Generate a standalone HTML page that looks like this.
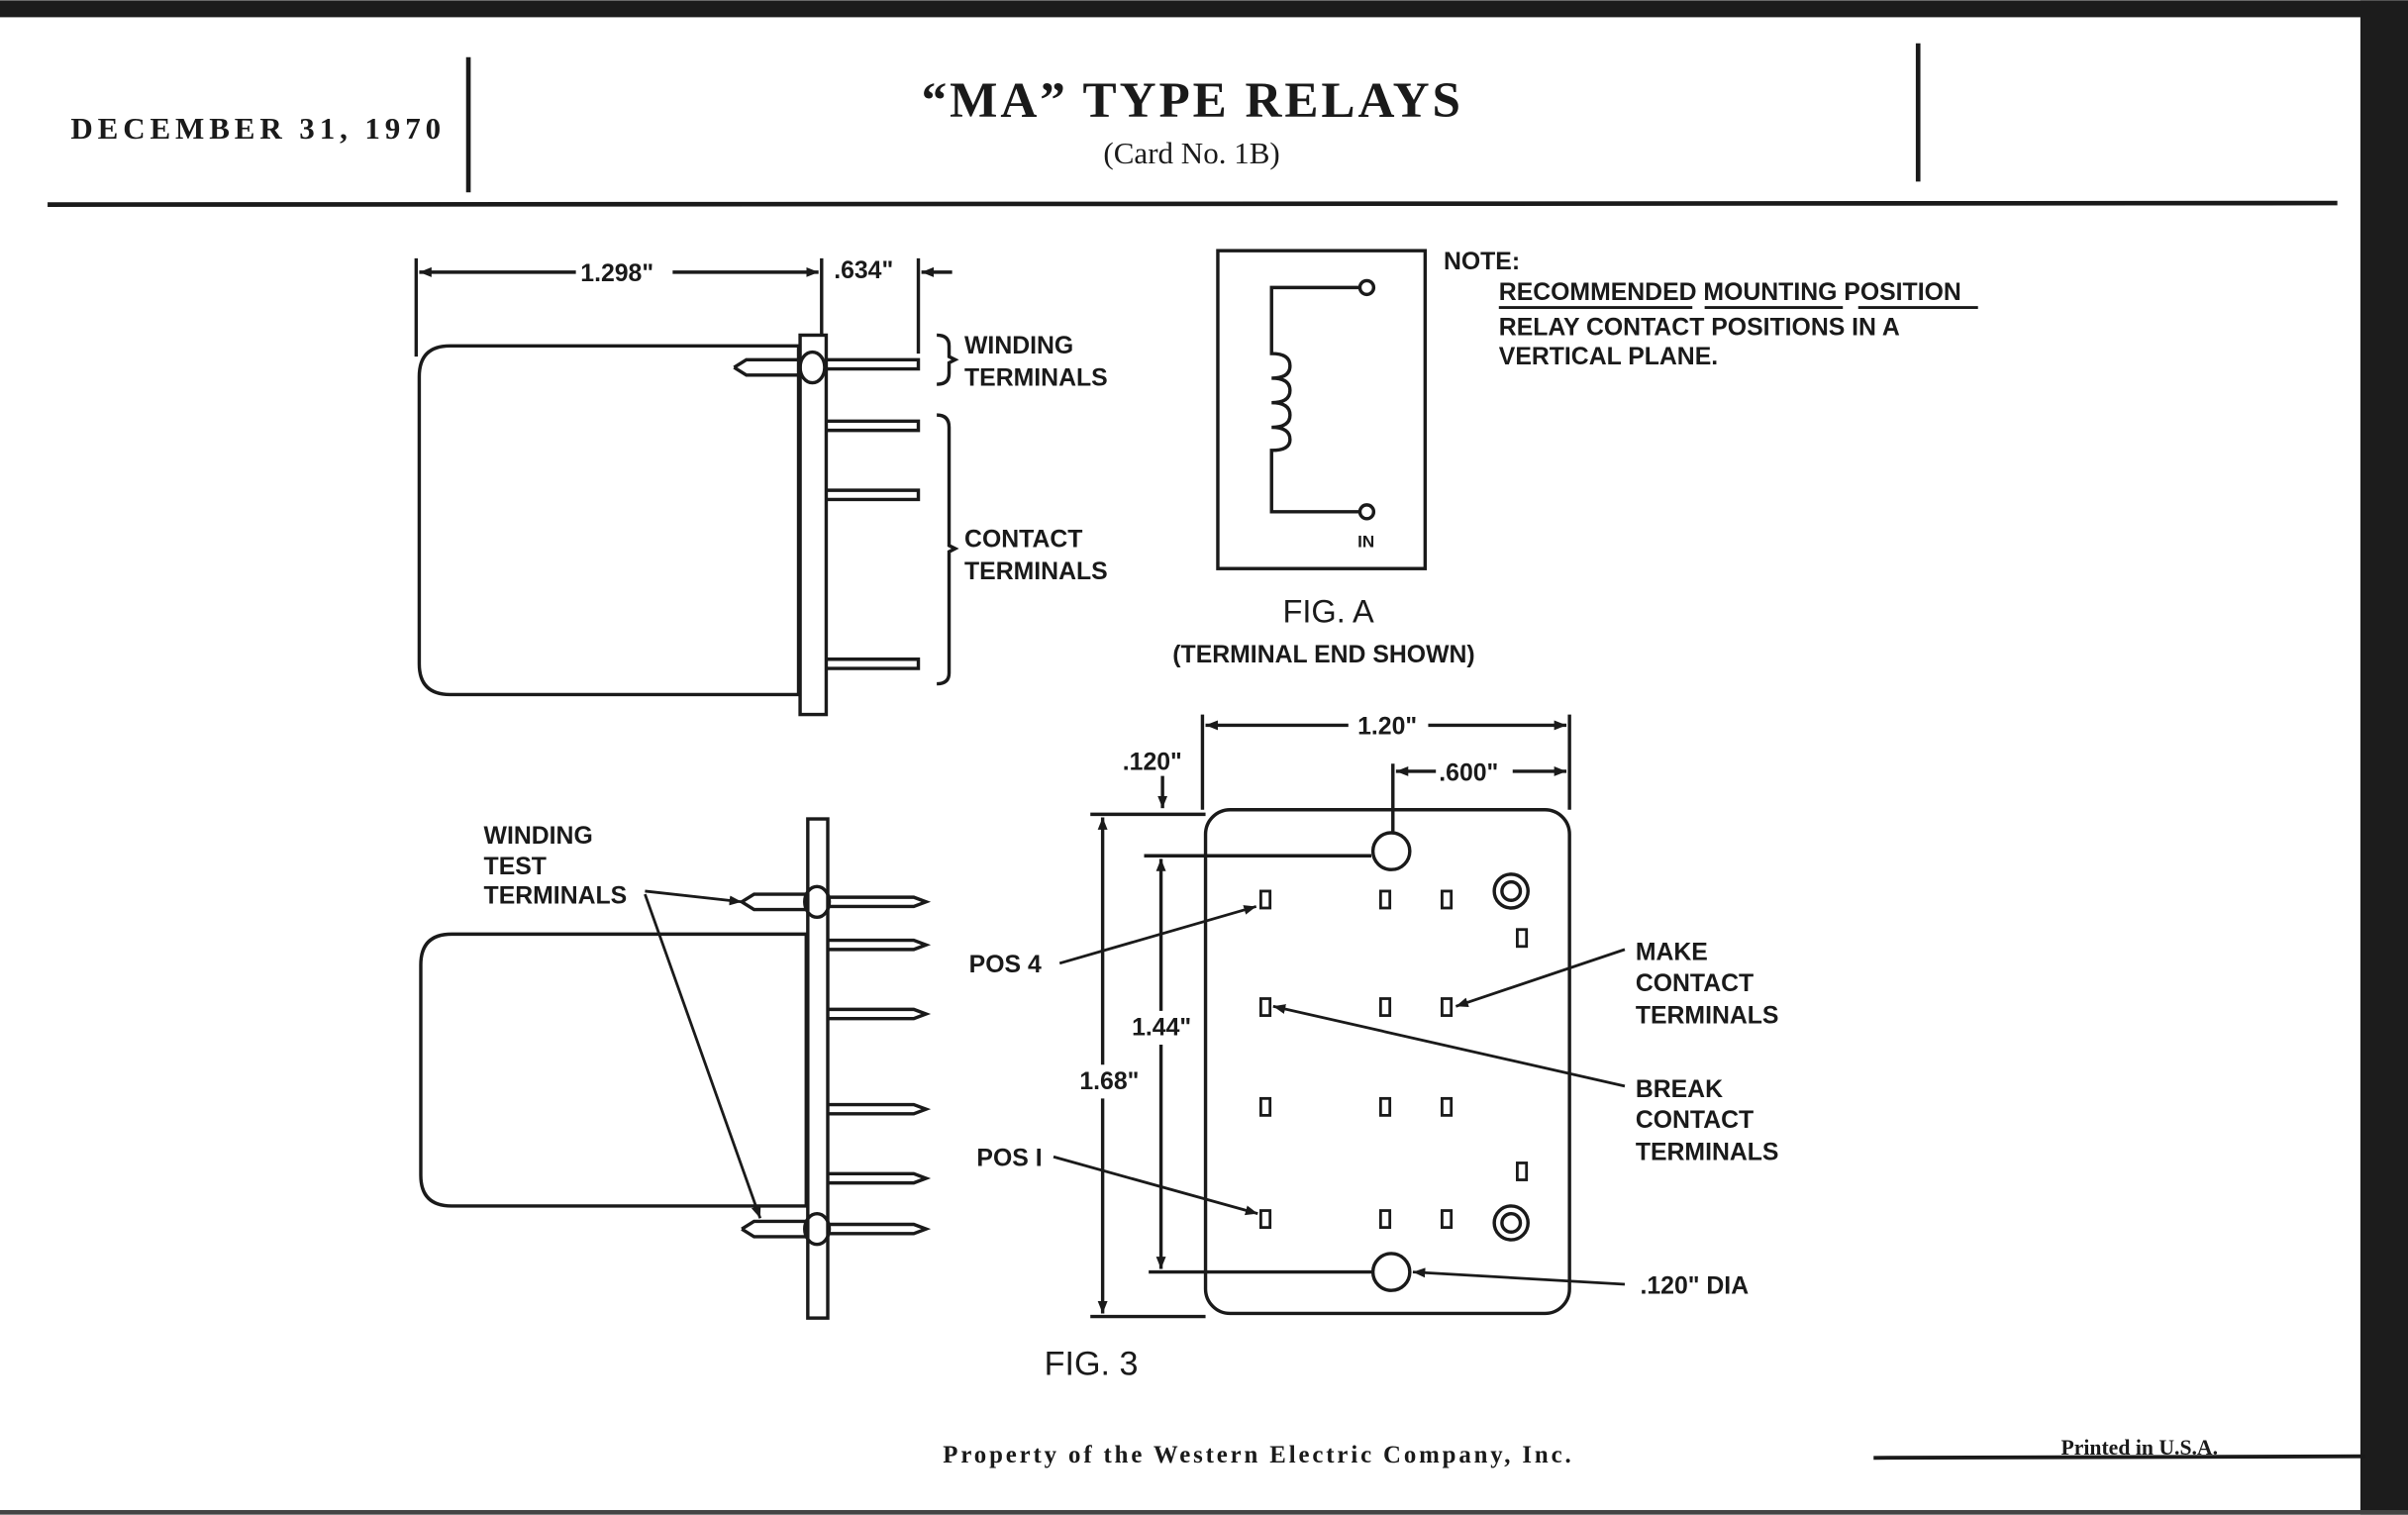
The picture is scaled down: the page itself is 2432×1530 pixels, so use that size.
<!DOCTYPE html>
<html><head><meta charset="utf-8"><style>
html,body{margin:0;padding:0;background:#fff}
svg{display:block}
.s{font-family:"Liberation Sans",sans-serif;font-weight:bold;fill:#1a1a1a}
.r{font-family:"Liberation Serif",serif;font-weight:bold;fill:#1a1a1a}
</style></head><body>
<svg width="2432" height="1530" viewBox="0 0 1568 986" xmlns="http://www.w3.org/2000/svg">
<defs>
<marker id="a" viewBox="0 0 10 10" refX="10" refY="5" markerWidth="8" markerHeight="8" orient="auto-start-reverse" markerUnits="userSpaceOnUse"><path d="M0,1 L10,5 L0,9 z" fill="#1a1a1a"/></marker>
</defs>
<rect width="1568" height="986" fill="#fff"/>
<rect x="0" y="0" width="1568" height="11" fill="#1c1c1c"/>
<rect x="1537" y="0" width="31" height="986" fill="#1c1c1c"/>
<rect x="0" y="983" width="1568" height="3" fill="#444"/>
<g stroke="#1a1a1a" fill="none" stroke-width="2.2">
<line x1="305" y1="37" x2="305" y2="125" stroke-width="3"/>
<line x1="1249" y1="28" x2="1249" y2="118" stroke-width="3"/>
<line x1="31" y1="133" x2="1522" y2="132" stroke-width="3"/>
<path d="M293,225 H520 V452 H293 Q273,452 273,432 V245 Q273,225 293,225 Z"/>
<rect x="521" y="218" width="17" height="247"/>
<path d="M478,239 L486,234 H520 M478,239 L486,244 H520"/>
<ellipse cx="529" cy="239" rx="8" ry="10"/>
<path d="M538,234 H598 V240 H538"/>
<path d="M538,274 H598 V280 H538"/>
<path d="M538,319 H598 V325 H538"/>
<path d="M538,429 H598 V435 H538"/>
<line x1="271" y1="168" x2="271" y2="232"/>
<line x1="535" y1="168" x2="535" y2="218"/>
<line x1="598" y1="168" x2="598" y2="230"/>
<line x1="273" y1="177" x2="375" y2="177" marker-start="url(#a)"/>
<line x1="438" y1="177" x2="533" y2="177" marker-end="url(#a)"/>
<line x1="620" y1="177" x2="600" y2="177" marker-end="url(#a)"/>
<path d="M610,218 Q618,218 618,225 V232 L622,234 L618,236 V243 Q618,250 610,250"/>
<path d="M610,270 Q618,270 618,278 V355 L622,357 L618,359 V438 Q618,445 610,445"/>
<rect x="793" y="163" width="135" height="207"/>
<path d="M885,187 H828 V230 Q840,230 840,238 Q840,246 828,246 Q840,246 840,254 Q840,262 828,262 Q840,262 840,270 Q840,278 828,278 Q840,278 840,286 Q840,293 828,293 V333 H885"/>
<circle cx="890" cy="187" r="4.5"/>
<circle cx="890" cy="333" r="4.5"/>
<line x1="976" y1="200" x2="1102" y2="200" stroke-width="1.8"/>
<line x1="1110" y1="200" x2="1200" y2="200" stroke-width="1.8"/>
<line x1="1210" y1="200" x2="1288" y2="200" stroke-width="1.8"/>
<path d="M294,608 H525 V785 H294 Q274,785 274,765 V628 Q274,608 294,608 Z"/>
<rect x="526" y="533" width="13" height="325"/>
<path d="M483,587 L491,582 H526 M483,587 L491,592 H526"/>
<ellipse cx="532" cy="587" rx="8" ry="10"/>
<path d="M483,800 L491,795 H526 M483,800 L491,805 H526"/>
<ellipse cx="532" cy="800" rx="8" ry="10"/>
<path d="M539,584 H595 L603,587 L595,590 H539"/>
<path d="M539,612 H595 L603,615 L595,618 H539"/>
<path d="M539,657 H595 L603,660 L595,663 H539"/>
<path d="M539,719 H595 L603,722 L595,725 H539"/>
<path d="M539,764 H595 L603,767 L595,770 H539"/>
<path d="M539,797 H595 L603,800 L595,803 H539"/>
<line x1="420" y1="580" x2="483" y2="587" marker-end="url(#a)" stroke-width="1.8"/>
<line x1="420" y1="582" x2="495" y2="793" marker-end="url(#a)" stroke-width="1.8"/>
<rect x="785" y="527" width="237" height="328" rx="16"/>
<circle cx="906" cy="554" r="12"/>
<circle cx="906" cy="828" r="12"/>
<circle cx="984" cy="580" r="11"/><circle cx="984" cy="580" r="6"/>
<circle cx="984" cy="796" r="11"/><circle cx="984" cy="796" r="6"/>
<g stroke-width="1.8">
<rect x="821" y="580" width="6" height="11"/><rect x="899" y="580" width="6" height="11"/><rect x="939" y="580" width="6" height="11"/>
<rect x="988" y="605" width="6" height="11"/>
<rect x="821" y="650" width="6" height="11"/><rect x="899" y="650" width="6" height="11"/><rect x="939" y="650" width="6" height="11"/>
<rect x="821" y="715" width="6" height="11"/><rect x="899" y="715" width="6" height="11"/><rect x="939" y="715" width="6" height="11"/>
<rect x="988" y="757" width="6" height="11"/>
<rect x="821" y="788" width="6" height="11"/><rect x="899" y="788" width="6" height="11"/><rect x="939" y="788" width="6" height="11"/>
</g>
<line x1="783" y1="465" x2="783" y2="527"/>
<line x1="1022" y1="465" x2="1022" y2="527"/>
<line x1="907" y1="497" x2="907" y2="542"/>
<line x1="785" y1="472" x2="878" y2="472" marker-start="url(#a)"/>
<line x1="930" y1="472" x2="1020" y2="472" marker-end="url(#a)"/>
<line x1="909" y1="502" x2="935" y2="502" marker-start="url(#a)"/>
<line x1="985" y1="502" x2="1020" y2="502" marker-end="url(#a)"/>
<line x1="757" y1="505" x2="757" y2="526" marker-end="url(#a)"/>
<line x1="710" y1="530" x2="785" y2="530"/>
<line x1="710" y1="857" x2="785" y2="857"/>
<line x1="745" y1="557" x2="893" y2="557"/>
<line x1="748" y1="828" x2="893" y2="828"/>
<line x1="718" y1="532" x2="718" y2="693" marker-start="url(#a)"/>
<line x1="718" y1="715" x2="718" y2="855" marker-end="url(#a)"/>
<line x1="756" y1="559" x2="756" y2="658" marker-start="url(#a)"/>
<line x1="756" y1="680" x2="756" y2="826" marker-end="url(#a)"/>
<g stroke-width="1.8">
<line x1="690" y1="627" x2="818" y2="590" marker-end="url(#a)"/>
<line x1="686" y1="753" x2="819" y2="790" marker-end="url(#a)"/>
<line x1="1058" y1="618" x2="948" y2="655" marker-end="url(#a)"/>
<line x1="1058" y1="707" x2="829" y2="655" marker-end="url(#a)"/>
<line x1="1058" y1="836" x2="920" y2="828" marker-end="url(#a)"/>
</g>
<line x1="1220" y1="949" x2="1540" y2="948" stroke-width="2.5"/>
</g>
<g class="r">
<text x="46" y="90" font-size="20" textLength="241" lengthAdjust="spacing">DECEMBER 31, 1970</text>
<text x="600" y="76" font-size="33" textLength="351" lengthAdjust="spacing">“MA” TYPE RELAYS</text>
<text x="776" y="106" font-size="20" text-anchor="middle" font-weight="normal">(Card No. 1B)</text>
<text x="614" y="952" font-size="16" textLength="409" lengthAdjust="spacing">Property of the Western Electric Company, Inc.</text>
<text x="1342" y="947" font-size="14">Printed in U.S.A.</text>
</g>
<g class="s" font-size="16">
<text x="378" y="183">1.298"</text>
<text x="543" y="181">.634"</text>
<text x="628" y="230">WINDING</text><text x="628" y="251">TERMINALS</text>
<text x="628" y="356">CONTACT</text><text x="628" y="377">TERMINALS</text>
<text x="884" y="356" font-size="11">IN</text>
<text x="865" y="405" font-size="21" text-anchor="middle" font-weight="normal">FIG. A</text>
<text x="862" y="431" text-anchor="middle">(TERMINAL END SHOWN)</text>
<text x="940" y="175">NOTE:</text>
<text x="976" y="195">RECOMMENDED MOUNTING POSITION</text>
<text x="976" y="218">RELAY CONTACT POSITIONS IN A</text>
<text x="976" y="237">VERTICAL PLANE.</text>
<text x="884" y="478">1.20"</text>
<text x="937" y="508">.600"</text>
<text x="731" y="501">.120"</text>
<text x="737" y="674">1.44"</text>
<text x="703" y="709">1.68"</text>
<text x="315" y="549">WINDING</text><text x="315" y="569">TEST</text><text x="315" y="588">TERMINALS</text>
<text x="631" y="633">POS 4</text>
<text x="636" y="759">POS I</text>
<text x="1065" y="625">MAKE</text><text x="1065" y="645">CONTACT</text><text x="1065" y="666">TERMINALS</text>
<text x="1065" y="714">BREAK</text><text x="1065" y="734">CONTACT</text><text x="1065" y="755">TERMINALS</text>
<text x="1068" y="842">.120" DIA</text>
<text x="680" y="895" font-size="22" font-weight="normal">FIG. 3</text>
</g>
</svg>
</body></html>
